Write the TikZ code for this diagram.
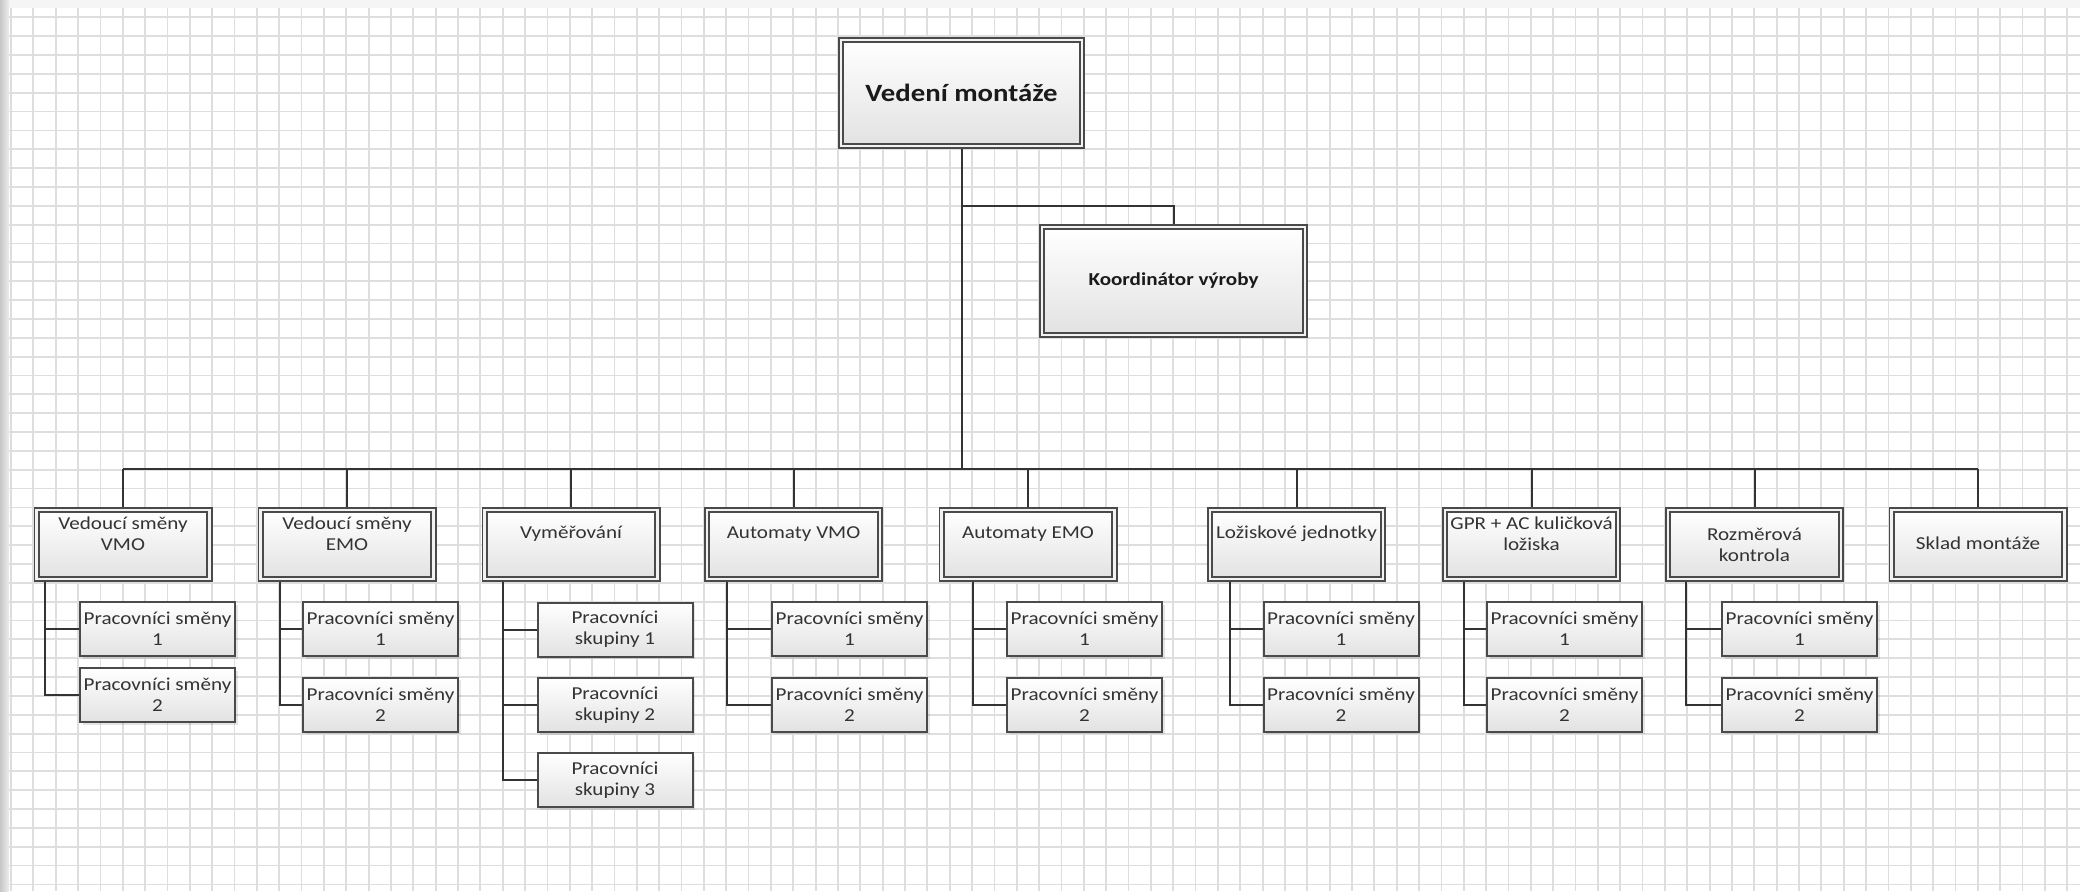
\documentclass[tikz,border=0pt]{standalone}
\usepackage{fontspec}
\setmainfont{Carlito}[FakeStretch=1.16]
\usetikzlibrary{shadows}
\definecolor{boxline}{HTML}{4A4A4A}
\definecolor{boxbot}{HTML}{E2E2E2}
\definecolor{gapc}{HTML}{F2F2F2}
\definecolor{gridc}{HTML}{DEDEDE}
\definecolor{linec}{HTML}{333333}
\definecolor{txt}{HTML}{333333}
\definecolor{txtdark}{HTML}{1A1A1A}
\pgfdeclarelayer{bg}
\pgfsetlayers{bg,main}
\begin{document}
\begin{tikzpicture}[x=0.5pt,y=-0.5pt,
  shadowed/.style={drop shadow={shadow xshift=1.4pt,shadow yshift=-1.4pt,fill=black,opacity=0.10}},
  dbox/.style={shadowed,draw=boxline,line width=0.9pt,double=gapc,double distance=1.3pt,
    top color=white,bottom color=boxbot,inner sep=0pt},
  lvltwo/.style={dbox,minimum width=86.4pt,minimum height=34.4pt},
  subbox/.style={shadowed,draw=boxline,line width=1pt,top color=white,bottom color=boxbot,
    minimum width=77.5pt,minimum height=27pt,inner sep=0pt,align=center,text=txt,
    font=\fontsize{9.1pt}{10.6pt}\selectfont},
  lbl/.style={inner sep=0pt,align=center,text=txt,font=\fontsize{9.1pt}{10.6pt}\selectfont},
  conn/.style={draw=linec,line width=1pt},
  gridline/.style={draw=gridc,line width=0.9pt}
]
\useasboundingbox (0,0) rectangle (2080,891);
\begin{pgfonlayer}{bg}
  \fill[white] (0,0) rectangle (2080,891);
  \fill[black!4] (0,0) rectangle (2080,8);
  \shade[left color=black!22,right color=black!7] (0,0) rectangle (9,891);
  \foreach \i in {0,...,92} \draw[gridline] ({11+22.35*\i},8) -- ({11+22.35*\i},891);
  \foreach \j in {0,...,46} \draw[gridline] (9,{17.3+18.85*\j}) -- (2080,{17.3+18.85*\j});
\end{pgfonlayer}

% top level
\node[dbox,minimum width=120.4pt,minimum height=52.9pt,text=txtdark,
  font=\fontsize{12.4pt}{14pt}\selectfont\bfseries] (top) at (961.5,93) {Vedení montáže};
\node[dbox,minimum width=131.4pt,minimum height=53.9pt,text=txtdark,
  font=\fontsize{9.1pt}{10.6pt}\selectfont\bfseries] (coord) at (1173.5,281) {Koordinátor výroby};

% second level boxes
\node[lvltwo] (c1) at (123,544.5) {};
\node[lvltwo] (c2) at (347,544.5) {};
\node[lvltwo] (c3) at (571,544.5) {};
\node[lvltwo] (c4) at (793.5,544.5) {};
\node[lvltwo] (c5) at (1028,544.5) {};
\node[lvltwo] (c6) at (1296.5,544.5) {};
\node[lvltwo] (c7) at (1531.5,544.5) {};
\node[lvltwo] (c8) at (1754.5,544.5) {};
\node[lvltwo] (c9) at (1978,544.5) {};

\node[lbl] (t1) at (123,534) {Vedoucí směny\\VMO};
\node[lbl] (t2) at (347,534) {Vedoucí směny\\EMO};
\node[lbl] (t3) at (571,534) {Vyměřování};
\node[lbl] (t4) at (793.5,534) {Automaty VMO};
\node[lbl] (t5) at (1028,534) {Automaty EMO};
\node[lbl] (t6) at (1296.5,534) {Ložiskové jednotky};
\node[lbl] (t7) at (1531.5,534) {GPR + AC kuličková\\ložiska};
\node[lbl] (t8) at (1754.5,545) {Rozměrová\\kontrola};
\node[lbl] (t9) at (1978,543) {Sklad montáže};

% third level boxes
\node[subbox] (c1a) at (157.5,629) {Pracovníci směny\\1};
\node[subbox] (c1b) at (157.5,695) {Pracovníci směny\\2};
\node[subbox] (c2a) at (380.5,629) {Pracovníci směny\\1};
\node[subbox] (c2b) at (380.5,704.5) {Pracovníci směny\\2};
\node[subbox] (c3a) at (615,629.5) {Pracovníci\\skupiny 1};
\node[subbox] (c3b) at (615,705) {Pracovníci\\skupiny 2};
\node[subbox] (c3c) at (615,780) {Pracovníci\\skupiny 3};
\node[subbox] (c4a) at (849.5,629) {Pracovníci směny\\1};
\node[subbox] (c4b) at (849.5,704.5) {Pracovníci směny\\2};
\node[subbox] (c5a) at (1084.5,629) {Pracovníci směny\\1};
\node[subbox] (c5b) at (1084.5,704.5) {Pracovníci směny\\2};
\node[subbox] (c6a) at (1341,629) {Pracovníci směny\\1};
\node[subbox] (c6b) at (1341,704.5) {Pracovníci směny\\2};
\node[subbox] (c7a) at (1564.5,629) {Pracovníci směny\\1};
\node[subbox] (c7b) at (1564.5,704.5) {Pracovníci směny\\2};
\node[subbox] (c8a) at (1799.5,629) {Pracovníci směny\\1};
\node[subbox] (c8b) at (1799.5,704.5) {Pracovníci směny\\2};

% connector coordinates
\coordinate (busL) at (123,469);
\coordinate (busR) at (1978,469);
\coordinate (kc) at (961.5,206);
\coordinate (s1) at (45,0);
\coordinate (s2) at (280,0);
\coordinate (s3) at (503,0);
\coordinate (s4) at (727,0);
\coordinate (s5) at (973,0);
\coordinate (s6) at (1230,0);
\coordinate (s7) at (1464,0);
\coordinate (s8) at (1686,0);

\begin{pgfonlayer}{bg}
  \draw[conn] (top.south) -- (top.south |- busL);
  \draw[conn] (busL) -- (busR);
  \draw[conn] (kc) -| (coord.north);
  \foreach \c in {c1,c2,c3,c4,c5,c6,c7,c8,c9}
    \draw[conn] (\c.north) -- (\c.north |- busL);
  \draw[conn] (c1.south -| s1) |- (c1a.west);
  \draw[conn] (c1.south -| s1) |- (c1b.west);
  \draw[conn] (c2.south -| s2) |- (c2a.west);
  \draw[conn] (c2.south -| s2) |- (c2b.west);
  \draw[conn] (c3.south -| s3) |- (c3a.west);
  \draw[conn] (c3.south -| s3) |- (c3b.west);
  \draw[conn] (c3.south -| s3) |- (c3c.west);
  \draw[conn] (c4.south -| s4) |- (c4a.west);
  \draw[conn] (c4.south -| s4) |- (c4b.west);
  \draw[conn] (c5.south -| s5) |- (c5a.west);
  \draw[conn] (c5.south -| s5) |- (c5b.west);
  \draw[conn] (c6.south -| s6) |- (c6a.west);
  \draw[conn] (c6.south -| s6) |- (c6b.west);
  \draw[conn] (c7.south -| s7) |- (c7a.west);
  \draw[conn] (c7.south -| s7) |- (c7b.west);
  \draw[conn] (c8.south -| s8) |- (c8a.west);
  \draw[conn] (c8.south -| s8) |- (c8b.west);
\end{pgfonlayer}
\end{tikzpicture}
\end{document}
